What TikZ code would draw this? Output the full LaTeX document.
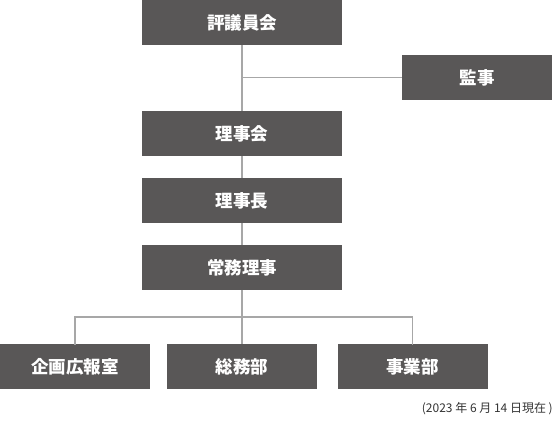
\documentclass[tikz,border=0pt]{standalone}
\usepackage{fontspec}
\usepackage{xcolor}
\newfontfamily\jpfont{Noto Sans CJK JP}
\usetikzlibrary{calc}

\definecolor{boxgray}{HTML}{595757}
\definecolor{linegray}{HTML}{A7A7A7}

\begin{document}
\begin{tikzpicture}[x=1pt, y=-1pt,
  box/.style={fill=boxgray, text=white, minimum height=45pt, inner sep=0pt,
    font=\jpfont\bfseries\fontsize{17.5}{18}\selectfont},
  link/.style={draw=linegray, line width=1.4pt}]

\useasboundingbox (0,0) rectangle (555,421);

\def\cx{242}
\def\w{200pt}
\def\v{150pt}

\node[box, minimum width=\w] (council) at (\cx, 22.5) {評議員会};
\node[box, minimum width=\v] (auditor) at (477, 77.5) {監事};
\node[box, minimum width=\w] (board) at (\cx, 133.5) {理事会};
\node[box, minimum width=\w] (chair) at (\cx, 200.5) {理事長};
\node[box, minimum width=\w] (exec) at (\cx, 267.5) {常務理事};

\foreach \name/\x/\txt in {pr/75/企画広報室, admin/242/総務部, biz/412.5/事業部} {
  \node[box, minimum width=\v] (\name) at (\x, 366.5) {\txt};
}

\coordinate (J) at (\cx, 77.5);
\coordinate (B) at (\cx, 317);

\draw[link] (council.south) -- (board.north);
\draw[link] (J) -- (auditor.west);
\draw[link] (board.south) -- (chair.north);
\draw[link] (chair.south) -- (exec.north);
\draw[link] (exec.south) -- (B);
\draw[link, line cap=rect] (pr.north) |- (B) -| (biz.north);
\draw[link] (B) -- (admin.north);

\node[anchor=east, inner sep=0pt, text=black!80, font=\jpfont\fontsize{12}{12}\selectfont]
  (date) at (553, 409) {(2023 年 6 月 14 日現在 )};

\end{tikzpicture}
\end{document}
